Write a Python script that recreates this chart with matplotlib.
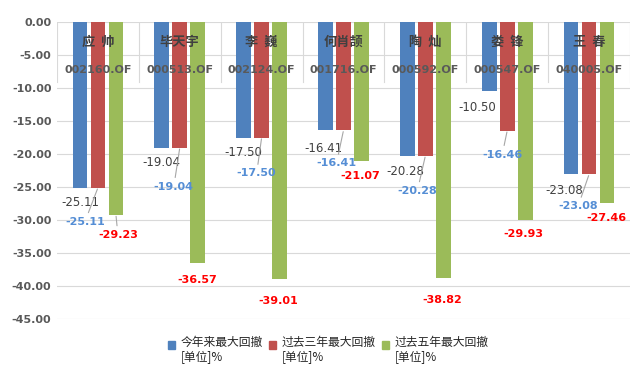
import matplotlib
matplotlib.use("Agg")
import matplotlib.pyplot as plt
import numpy as np
from matplotlib.patches import Rectangle
from matplotlib.legend_handler import HandlerPatch
from matplotlib.ticker import FuncFormatter

plt.rcParams["font.family"] = ["DejaVu Sans", "Noto Sans CJK SC"]

# data
managers = ["应 帅", "毕天宇", "李 巍", "何肖颉", "陶 灿", "娄 锋", "王 春"]
fund_codes = ["002160.OF", "000513.OF", "002124.OF", "001716.OF",
              "000592.OF", "000547.OF", "040005.OF"]
series_names = ["今年来最大回撤\n[单位]%", "过去三年最大回撤\n[单位]%", "过去五年最大回撤\n[单位]%"]
dd_ytd = [-25.11, -19.04, -17.50, -16.41, -20.28, -10.50, -23.08]
dd_3y = [-25.11, -19.04, -17.50, -16.41, -20.28, -16.46, -23.08]
dd_5y = [-29.23, -36.57, -39.01, -21.07, -38.82, -29.93, -27.46]
y_ticks = [0, -5, -10, -15, -20, -25, -30, -35, -40, -45]

# label placement (pixel offsets from bar end), mirrors the hand-moved labels
off_ytd = [(0, -15), (0, -15), (0, -15), (-2, -18), (-2, -16), (-12, -16), (-7, -16)]
off_3y = [(-13, -34), (-6, -39), (-5, -36), (-7, -33), (-8, -35), (-5, -24), (-11, -32)]
off_5y = [(2, -20), (-1, -17), (-1, -22), (-1, -15), (-1, -22), (-2, -14), (-1, -15)]
lead_5y = [True, False, False, False, False, False, False]

bar_colors = ["#4f81bd", "#c0504d", "#9bbb59"]
label_styles = [
    dict(color="#404040", fontsize=8.5, fontweight="normal"),
    dict(color="#558ed5", fontsize=8, fontweight="bold"),
    dict(color="#ff0000", fontsize=8, fontweight="bold"),
]


def _top_square(legend, orig_handle, xdescent, ydescent, width, height, fontsize):
    # square key sitting next to the first line of a two-line label
    side = 0.62 * fontsize
    return Rectangle((-xdescent, -ydescent + height - side + 0.1 * fontsize), side, side)


fig = plt.figure(figsize=(6.4, 3.7), dpi=100)
ax = fig.add_axes([57 / 640, 1 - 319 / 370, (630 - 57) / 640, (319 - 22) / 370])

x = np.arange(len(managers))
width = 0.18
shifts = [-0.22, 0.0, 0.22]
all_series = [dd_ytd, dd_3y, dd_5y]
all_offsets = [off_ytd, off_3y, off_5y]

for vals, shift, color in zip(all_series, shifts, bar_colors):
    ax.bar(x + shift, vals, width, color=color, zorder=2)

# value labels
for s, (vals, shift, offs, style) in enumerate(zip(all_series, shifts, all_offsets, label_styles)):
    for i, v in enumerate(vals):
        lead = s == 1 or (s == 2 and lead_5y[i])
        ax.annotate(
            f"{v:.2f}",
            (x[i] + shift, v),
            xytext=offs[i],
            textcoords="offset pixels",
            ha="center",
            va="center",
            zorder=5,
            arrowprops=dict(arrowstyle="-", color="#a6a6a6", lw=0.8,
                            shrinkA=1, shrinkB=1) if lead else None,
            **style,
        )

# two-level category labels drawn inside the plot, under the zero line
for i, (nm, code) in enumerate(zip(managers, fund_codes)):
    ax.text(x[i], -3.0, nm.replace(" ", "  "), ha="center", va="center", fontsize=9.5,
            fontweight="bold", color="#404040", zorder=4,
            family=["Noto Sans CJK SC", "DejaVu Sans"])
    ax.text(x[i], -7.2, code, ha="center", va="center", fontsize=8,
            fontweight="bold", color="#595959", zorder=4)
for k in range(len(managers) + 1):
    ax.plot([k - 0.5, k - 0.5], [0, -9.1], color="#d9d9d9", lw=0.8, zorder=1)

ax.set_xlim(-0.5, len(managers) - 0.5)
ax.set_ylim(-45, 0)
ax.set_yticks(y_ticks)
ax.yaxis.set_major_formatter(FuncFormatter(lambda v, p: f"{v:.2f}"))
ax.set_xticks([])
ax.tick_params(axis="y", length=0, labelsize=8, labelcolor="#595959", pad=4)
for lab in ax.get_yticklabels():
    lab.set_fontweight("bold")
ax.grid(axis="y", color="#d9d9d9", lw=0.8, zorder=0)
ax.set_axisbelow(True)
for sp in ax.spines.values():
    sp.set_visible(False)

proxies = [Rectangle((0, 0), 1, 1, color=c) for c in bar_colors]
leg = fig.legend(
    proxies,
    series_names,
    loc="center",
    bbox_to_anchor=(0.513, 0.053),
    ncol=3,
    frameon=False,
    handlelength=0.7,
    handleheight=2.0,
    handletextpad=0.4,
    columnspacing=0.5,
    prop={"family": ["Noto Sans CJK SC", "DejaVu Sans"], "size": 8.5},
    handler_map={Rectangle: HandlerPatch(patch_func=_top_square)},
)
for t in leg.get_texts():
    t.set_color("#262626")

fig.savefig("out.png", dpi=100)
